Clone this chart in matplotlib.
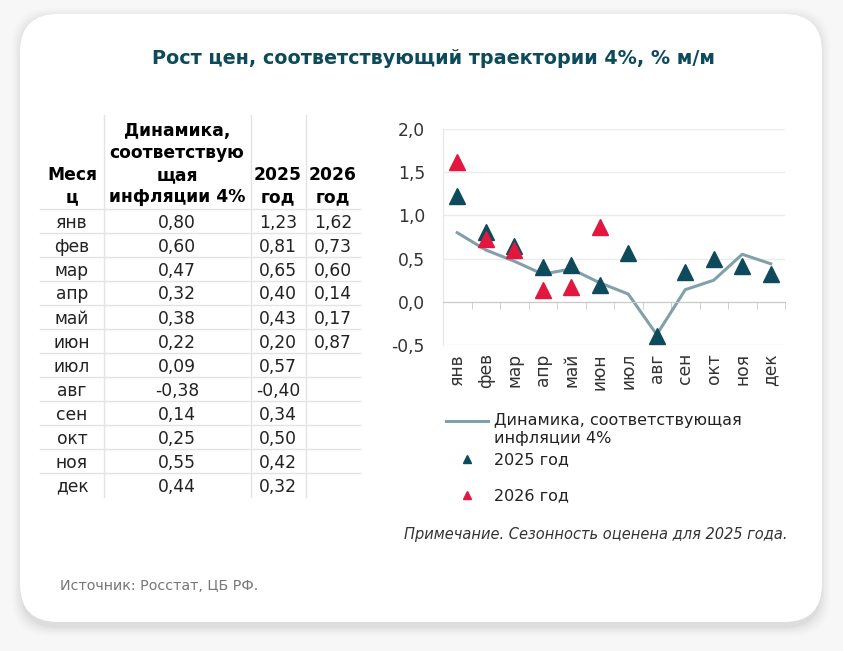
import numpy as np
import matplotlib
matplotlib.use("Agg")
import matplotlib.pyplot as plt
from matplotlib.patches import FancyBboxPatch
from matplotlib.lines import Line2D
from matplotlib.legend_handler import HandlerLine2D
from matplotlib.ticker import FuncFormatter, FixedLocator

plt.rcParams['font.family'] = ['DejaVu Sans']

# данные
months = ['янв', 'фев', 'мар', 'апр', 'май', 'июн', 'июл', 'авг', 'сен', 'окт', 'ноя', 'дек']
target_4pct = [0.80, 0.60, 0.47, 0.32, 0.38, 0.22, 0.09, -0.38, 0.14, 0.25, 0.55, 0.44]
y2025 = [1.23, 0.81, 0.65, 0.40, 0.43, 0.20, 0.57, -0.40, 0.34, 0.50, 0.42, 0.32]
y2026 = [1.62, 0.73, 0.60, 0.14, 0.17, 0.87]

title = 'Рост цен, соответствующий траектории 4%, % м/м'
line_label = 'Динамика, соответствующая\nинфляции 4%'
note = 'Примечание. Сезонность оценена для 2025 года.'
source = 'Источник: Росстат, ЦБ РФ.'

C_TEAL = '#0d4a5c'
C_RED = '#e2173f'
C_LINE = '#82a0a9'
C_TEXT = '#222222'

W, H = 843, 651
fig = plt.figure(figsize=(W / 100, H / 100), dpi=100)
fig.patch.set_facecolor('#f7f7f7')


def fx(x):
    return x / W


def fy(y):
    return 1 - y / H


# линия легенды — на уровне первой строки подписи
class TopLineHandler(HandlerLine2D):
    def create_artists(self, legend, orig_handle, xdescent, ydescent, width, height,
                       fontsize, trans):
        return super().create_artists(legend, orig_handle, xdescent, ydescent - 13,
                                      width, height, fontsize, trans)


# карточка с тенью
for i, a in enumerate([0.03, 0.025, 0.02, 0.015, 0.01]):
    d = 2 + i * 2
    sh = FancyBboxPatch((fx(20 - d + 2), fy(622 + d + 4)), fx(802 + 2 * d - 4), (608 + 2 * d) / H,
                        boxstyle='round,pad=0,rounding_size=0.045', transform=fig.transFigure,
                        facecolor='black', edgecolor='none', alpha=a, mutation_aspect=W / H,
                        zorder=-2)
    fig.patches.append(sh)
card = FancyBboxPatch((fx(20), fy(622)), fx(802), 608 / H,
                      boxstyle='round,pad=0,rounding_size=0.045', transform=fig.transFigure,
                      facecolor='white', edgecolor='none', mutation_aspect=W / H, zorder=-1)
fig.patches.append(card)

fig.text(fx(434), fy(59), title, ha='center', va='center', fontsize=13.8,
         fontweight='bold', color=C_TEAL)

# таблица
col_x = [72, 177, 278, 333]
col_edges = [104, 251, 306]
row_top = 209
row_h = 24
fs = 12.3

headers = [['Меся', 'ц'], ['Динамика,', 'соответствую', 'щая', 'инфляции 4%'],
           ['2025', 'год'], ['2026', 'год']]
for cx, lines in zip(col_x, headers):
    n = len(lines)
    for k, t in enumerate(lines):
        fig.text(fx(cx), fy(197 - (n - 1 - k) * 22), t, ha='center', va='center',
                 fontsize=12.3, fontweight='bold', color='black')

for e in col_edges:
    fig.add_artist(Line2D([fx(e), fx(e)], [fy(115), fy(row_top + 12 * row_h)],
                          transform=fig.transFigure, color='#e3e3e3', lw=1))
for r in range(12):
    yl = row_top + r * row_h
    fig.add_artist(Line2D([fx(40), fx(360)], [fy(yl), fy(yl)],
                          transform=fig.transFigure, color='#e3e3e3', lw=1))
    yc = yl + row_h / 2 + 1.5
    fig.text(fx(col_x[0]), fy(yc), months[r], ha='center', va='center', fontsize=fs, color=C_TEXT)
    fig.text(fx(col_x[1]), fy(yc), f'{target_4pct[r]:.2f}'.replace('.', ','), ha='center',
             va='center', fontsize=fs, color=C_TEXT)
    fig.text(fx(col_x[2]), fy(yc), f'{y2025[r]:.2f}'.replace('.', ','), ha='center',
             va='center', fontsize=fs, color=C_TEXT)
    if r < len(y2026):
        fig.text(fx(col_x[3]), fy(yc), f'{y2026[r]:.2f}'.replace('.', ','), ha='center',
                 va='center', fontsize=fs, color=C_TEXT)

# график
ax = fig.add_axes([fx(443), fy(345), fx(785 - 443), (345 - 129) / H])
ax.set_facecolor('none')
ax.set_zorder(3)
x = np.arange(len(months))
ln, = ax.plot(x, target_4pct, color=C_LINE, lw=2.2, zorder=2)
m25, = ax.plot(x, y2025, ls='none', marker='^', ms=12, color=C_TEAL, zorder=3)
m26, = ax.plot(x[:len(y2026)], y2026, ls='none', marker='^', ms=12, color=C_RED, zorder=4)

ax.set_xlim(-0.5, 11.5)
ax.set_ylim(-0.5, 2.0)
ax.set_yticks(np.arange(-0.5, 2.01, 0.5))
ax.yaxis.set_major_formatter(FuncFormatter(lambda v, p: f'{v:.1f}'.replace('.', ',')))
ax.tick_params(axis='y', length=0, labelsize=fs, labelcolor='#333333', pad=13)
ax.grid(axis='y', color='#ebebeb', lw=1)
ax.set_axisbelow(True)

for s in ['top', 'right']:
    ax.spines[s].set_visible(False)
ax.spines['left'].set_color('#e6e6e6')
ax.spines['bottom'].set_position(('data', 0))
ax.spines['bottom'].set_color('#c8c8c8')

ax.set_xticks(x)
ax.set_xticklabels(months, rotation=90)
ax.xaxis.set_minor_locator(FixedLocator(np.arange(-0.5, 12, 1)))
ax.tick_params(axis='x', which='major', length=0, pad=37, labelsize=fs, labelcolor='#333333')
ax.tick_params(axis='x', which='minor', length=5, color='#c8c8c8', direction='out')

leg1 = fig.legend([ln], [line_label], loc='upper left', bbox_to_anchor=(fx(440), fy(407)),
                  frameon=False, fontsize=11.5, handlelength=2.6, handletextpad=0.35,
                  borderaxespad=0, labelcolor='#222222',
                  handler_map={Line2D: TopLineHandler()})
leg1.set_zorder(4)
leg2 = fig.legend([m25, m26], ['2025 год', '2026 год'], loc='upper left',
                  bbox_to_anchor=(fx(440), fy(446)), frameon=False, fontsize=11.5,
                  handlelength=2.6, handletextpad=0.35, labelspacing=1.3, markerscale=0.5,
                  borderaxespad=0, labelcolor='#222222')
leg2.set_zorder(4)

fig.text(fx(787), fy(534), note, ha='right', va='center', fontsize=10.5, style='italic',
         color='#333333')
fig.text(fx(60), fy(586), source, ha='left', va='center', fontsize=10.3, color='#777777')

fig.savefig('out.png', dpi=100, facecolor=fig.get_facecolor())
